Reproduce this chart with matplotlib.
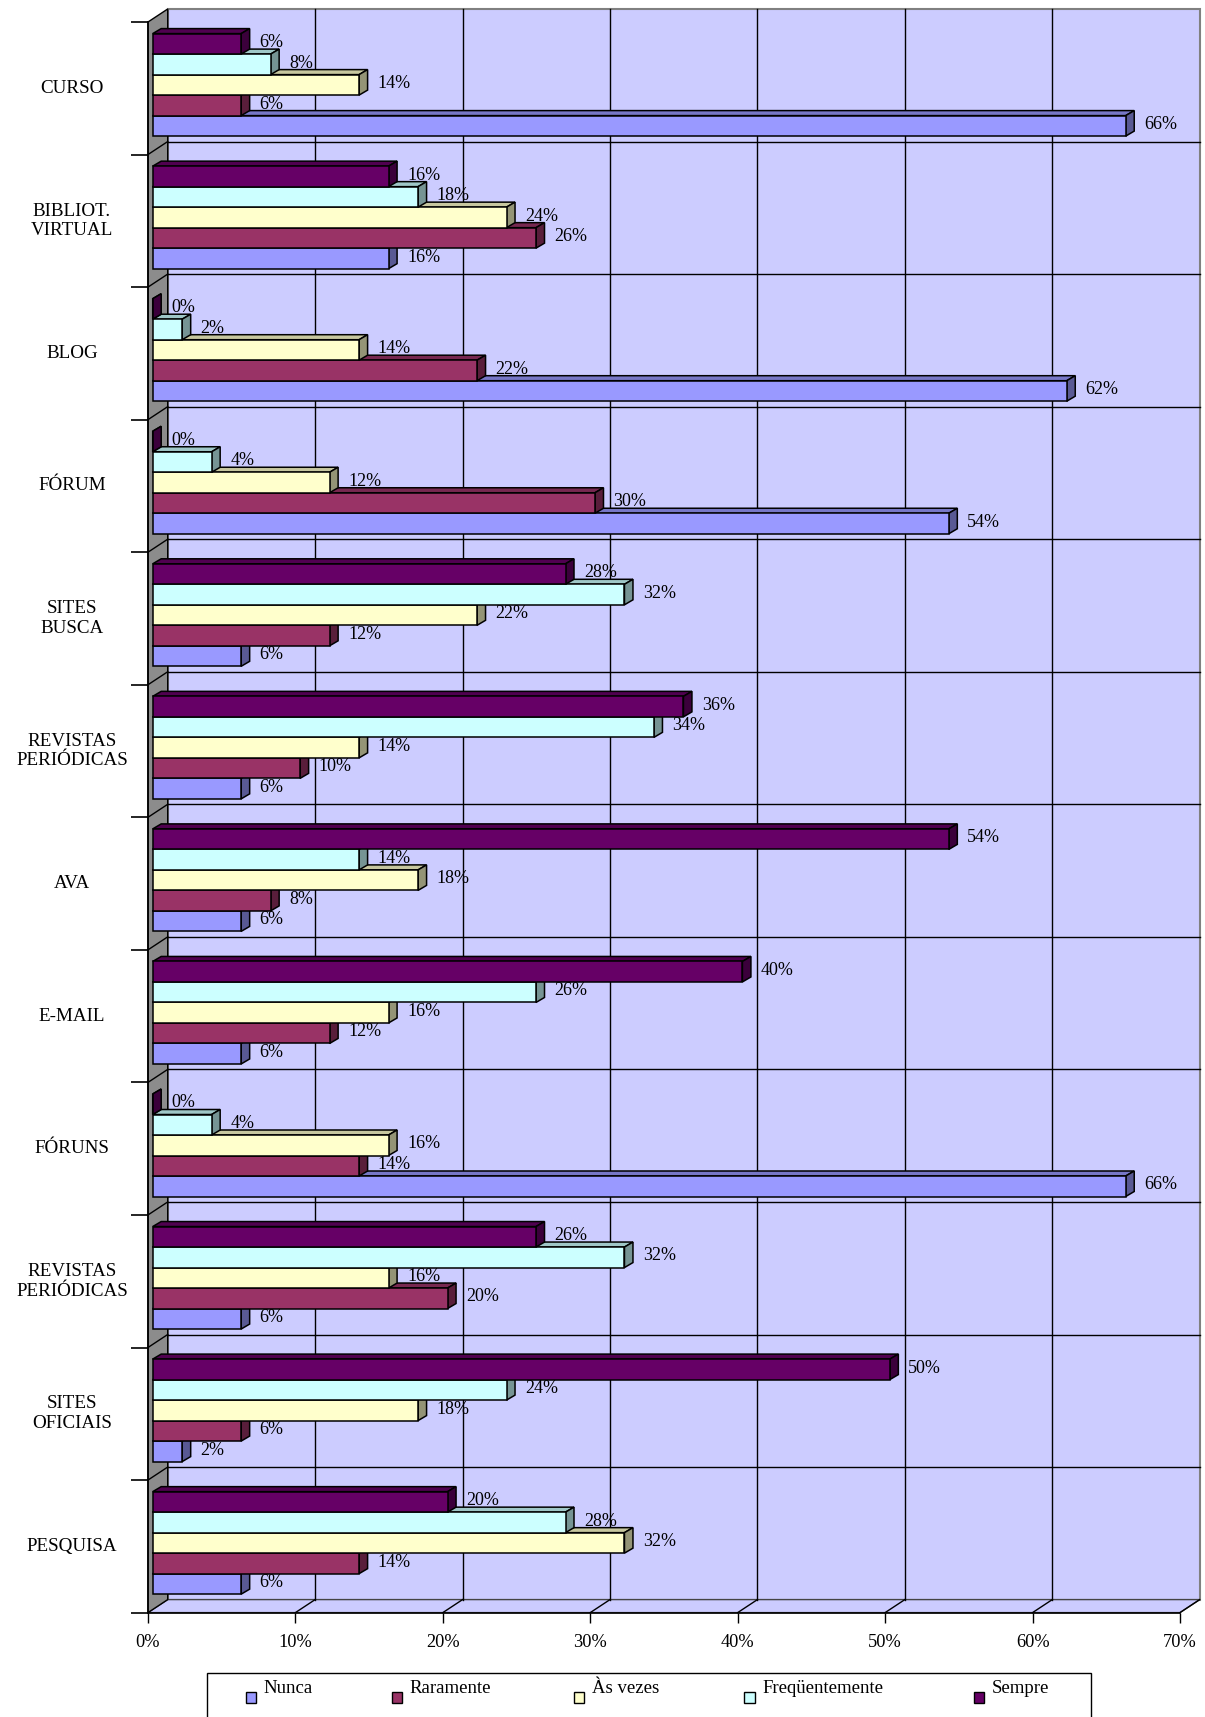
import matplotlib
matplotlib.use("Agg")
import matplotlib.pyplot as plt
from matplotlib.colors import to_rgb
from matplotlib.patches import Polygon, Rectangle
import numpy as np

plt.rcParams["font.family"] = ["Liberation Serif", "DejaVu Serif"]

# ---- data ----
CATEGORIES = ["CURSO", "BIBLIOT.\nVIRTUAL", "BLOG", "FÓRUM", "SITES\nBUSCA",
              "REVISTAS\nPERIÓDICAS", "AVA", "E-MAIL", "FÓRUNS",
              "REVISTAS\nPERIÓDICAS", "SITES\nOFICIAIS", "PESQUISA"]
SERIES = ["Nunca", "Raramente", "Às vezes", "Freqüentemente", "Sempre"]
nunca = [66, 16, 62, 54, 6, 6, 6, 6, 66, 6, 2, 6]
raramente = [6, 26, 22, 30, 12, 10, 8, 12, 14, 20, 6, 14]
as_vezes = [14, 24, 14, 12, 22, 14, 18, 16, 16, 16, 18, 32]
frequentemente = [8, 18, 2, 4, 32, 34, 14, 26, 4, 32, 24, 28]
sempre = [6, 16, 0, 0, 28, 36, 54, 40, 0, 26, 50, 20]
X_TICKS = [0, 10, 20, 30, 40, 50, 60, 70]

COLORS = ["#9999FF", "#993366", "#FFFFCC", "#CCFFFF", "#660066"]
WALL = "#CCCCFF"
SIDE_WALL = "#8c8c8c"

W, H = 1205, 1717
# front plane of the fake-3D box, in pixels
AX_L, AX_R, AX_T, AX_B = 148, 1180, 22, 1612.6
XMAX = 70
NCAT = len(CATEGORIES)
PX_X = (AX_R - AX_L) / XMAX
PX_Y = (AX_B - AX_T) / NCAT

# depth offsets (data units)
DX, DY = 19.7 / PX_X, 13 / PX_Y          # box depth
BDX, BDY = 8.5 / PX_X, 5 / PX_Y          # bar depth
BAR_OFF = 4.7 / PX_X
BAR_H = 20.5 / PX_Y
TOP_GAP = 11.6 / PX_Y
LBL_GAP = 10 / PX_X


def shade(c, f):
    r, g, b = to_rgb(c)
    return (r * f, g * f, b * f)


def fx(px):
    return px / W


def fy(py):
    return 1 - py / H


fig = plt.figure(figsize=(W / 100, H / 100), dpi=100, facecolor="white")
ax = fig.add_axes([fx(AX_L), fy(AX_B), (AX_R - AX_L) / W, (AX_B - AX_T) / H])
ax.set_xlim(0, XMAX)
ax.set_ylim(0, NCAT)
ax.patch.set_visible(False)
for side in ("top", "right"):
    ax.spines[side].set_visible(False)
ax.spines["left"].set_linewidth(1.2)
ax.spines["bottom"].set_linewidth(1.2)
ax.spines["left"].set_zorder(2)
ax.spines["bottom"].set_zorder(2)

# walls and floor
ax.add_patch(Rectangle((DX, DY), XMAX, NCAT, facecolor=WALL, edgecolor="#808080",
                       lw=1.5, zorder=0, clip_on=False))
ax.add_patch(Polygon([(0, 0), (XMAX, 0), (XMAX + DX, DY), (DX, DY)], closed=True,
                     facecolor=WALL, edgecolor="#444444", lw=1, zorder=0.5, clip_on=False))
ax.add_patch(Polygon([(0, 0), (DX, DY), (DX, NCAT + DY), (0, NCAT)], closed=True,
                     facecolor=SIDE_WALL, edgecolor="black", lw=1, zorder=0.5, clip_on=False))

# gridlines
for x in X_TICKS[1:]:
    if x < XMAX:
        ax.plot([x + DX, x + DX], [DY, NCAT + DY], color="black", lw=1, zorder=1, clip_on=False)
    ax.plot([x, x + DX], [0, DY], color="black", lw=1, zorder=1, clip_on=False)
for k in range(1, NCAT):
    ax.plot([DX, XMAX + DX], [k + DY, k + DY], color="black", lw=1, zorder=1, clip_on=False)
    ax.plot([0, DX], [k, k + DY], color="black", lw=1, zorder=1, clip_on=False)

# axes ticks
ax.set_xticks(X_TICKS)
ax.set_xticklabels([f"{t}%" for t in X_TICKS])
ax.tick_params(axis="x", length=7.2, width=1, pad=8, labelsize=13.2, direction="out")
ax.set_yticks(range(NCAT + 1))
ax.set_yticklabels([])
ax.tick_params(axis="y", length=12.5, width=1.2, direction="out")

# bars, drawn bottom series first so upper fronts cover lower top faces
values = [nunca, raramente, as_vezes, frequentemente, sempre]
group_top = np.arange(NCAT, 0, -1)
nser = len(SERIES)
for s, (name, vals) in enumerate(zip(SERIES, values)):
    yc = group_top - TOP_GAP - BAR_H / 2 - (nser - 1 - s) * BAR_H
    z = 3 + 2 * s
    bars = ax.barh(yc, vals, height=BAR_H, left=BAR_OFF, color=COLORS[s],
                   edgecolor="black", lw=1.1, zorder=z + 1, label=name)
    for rect, v in zip(bars.patches, vals):
        x0, y0 = rect.get_x(), rect.get_y()
        x1, y1 = x0 + rect.get_width(), y0 + rect.get_height()
        ax.add_patch(Polygon([(x0, y1), (x1, y1), (x1 + BDX, y1 + BDY), (x0 + BDX, y1 + BDY)],
                             closed=True, facecolor=shade(COLORS[s], 0.78),
                             edgecolor="black", lw=1.1, zorder=z))
        ax.add_patch(Polygon([(x1, y0), (x1 + BDX, y0 + BDY), (x1 + BDX, y1 + BDY), (x1, y1)],
                             closed=True, facecolor=shade(COLORS[s], 0.58),
                             edgecolor="black", lw=1.1, zorder=z))
        ax.text(x1 + BDX + LBL_GAP, (y0 + y1) / 2 + 0.01, f"{v}%", fontsize=13,
                ha="left", va="center", zorder=20)

# category labels
for i, cat in enumerate(CATEGORIES):
    ax.text((72 - AX_L) / PX_X, group_top[i] - 0.5, cat, fontsize=13.7, ha="center",
            va="center", multialignment="center", clip_on=False)

# legend box (runs off the bottom of the page like the reference)
fig.add_artist(Rectangle((fx(207), fy(1745)), (1091 - 207) / W, (1745 - 1673) / H,
                         transform=fig.transFigure, fill=False, edgecolor="black", lw=1))
mark_x = [245.5, 391.6, 573.6, 744.4, 973.5]
for s, name in enumerate(SERIES):
    fig.add_artist(Rectangle((fx(mark_x[s]), fy(1703)), 10.5 / W, 11 / H,
                             transform=fig.transFigure, facecolor=COLORS[s],
                             edgecolor="black", lw=1))
    fig.text(fx(mark_x[s] + 18), fy(1693), name, fontsize=13.5, ha="left", va="baseline")

fig.savefig("out.png", dpi=100, facecolor="white")
